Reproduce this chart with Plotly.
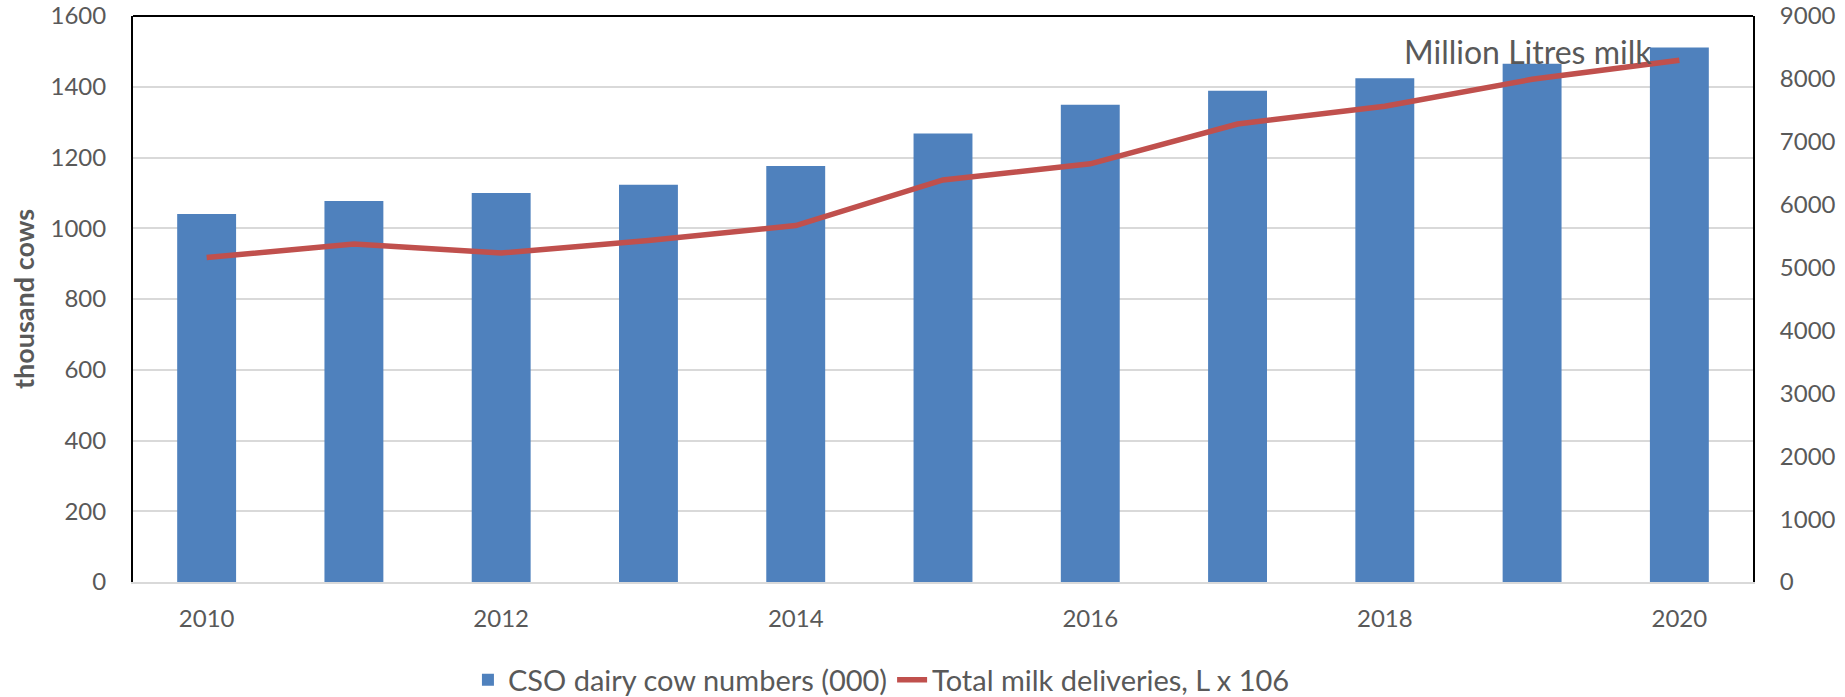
import plotly.graph_objects as go

# Irish dairy herd and milk deliveries, 2010-2020
years = [2010, 2011, 2012, 2013, 2014, 2015, 2016, 2017, 2018, 2019, 2020]
cow_numbers = [1040, 1077, 1100, 1123, 1176, 1268, 1349, 1389, 1424, 1465, 1511]
milk_deliveries = [5160, 5375, 5230, 5430, 5668, 6393, 6649, 7283, 7566, 7993, 8297]

bar_name = "CSO dairy cow numbers (000)"
line_name = "Total milk deliveries, L x 106"
left_title = "thousand cows"
right_note = "Million Litres milk"

FONT = "Lato, 'Open Sans', sans-serif"
GREY = "#595959"

fig = go.Figure()
fig.add_trace(go.Bar(
    x=years, y=cow_numbers, name=bar_name,
    marker=dict(color="#4F81BD", line=dict(width=0)),
    width=0.4, yaxis="y",
))
fig.add_trace(go.Scatter(
    x=years, y=milk_deliveries, name=line_name, mode="lines",
    line=dict(color="#C0504D", width=5.5), yaxis="y2",
))

fig.add_annotation(
    x=2018.97, y=8430, xref="x", yref="y2", text=right_note, showarrow=False,
    font=dict(family=FONT, size=32, color=GREY),
)

# black frame along the top edge of the plot area
fig.add_shape(type="line", xref="paper", yref="paper", x0=0, x1=1, y0=1, y1=1,
              line=dict(color="black", width=2))

fig.update_layout(
    width=1845, height=697,
    margin=dict(l=133, r=92, t=16, b=115, autoexpand=False),
    paper_bgcolor="white", plot_bgcolor="white",
    font=dict(family=FONT, color=GREY),
    showlegend=True,
    legend=dict(orientation="h", x=0.462, xanchor="center", y=-0.173, yanchor="middle",
                font=dict(family=FONT, size=29, color=GREY), traceorder="normal"),
    xaxis=dict(range=[2009.5, 2020.5], tickmode="array", tickvals=[2010, 2012, 2014, 2016, 2018, 2020],
               showgrid=False, showline=True, linecolor="#D9D9D9", linewidth=2,
               ticks="", tickfont=dict(size=24, color=GREY), ticklabelstandoff=14),
    yaxis=dict(range=[0, 1600], dtick=200, showgrid=True, gridcolor="#D9D9D9", gridwidth=1.5,
               zeroline=False, showline=True, linecolor="black", linewidth=2, ticks="",
               tickfont=dict(size=24, color=GREY), ticklabelstandoff=20,
               title=dict(text="<b>" + left_title + "</b>", font=dict(size=27, color=GREY), standoff=8)),
    yaxis2=dict(range=[0, 9000], dtick=1000, overlaying="y", side="right", showgrid=False,
                zeroline=False, showline=True, linecolor="black", linewidth=2, ticks="",
                tickfont=dict(size=24, color=GREY), ticklabelstandoff=20),
    bargap=0.6,
)

fig.write_html("out.html")
